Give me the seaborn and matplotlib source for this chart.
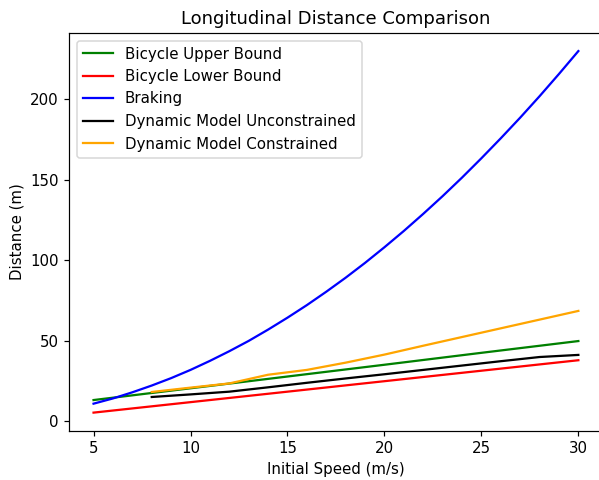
import matplotlib
matplotlib.use("Agg")
import matplotlib.pyplot as plt
import seaborn as sns
import pandas as pd

# Bicycle bounds
bike_speed = [5, 10, 15, 20, 25, 30]
bike_upper = [13.3, 20.6, 27.9, 35.2, 42.6, 49.9]
bike_lower = [5.5, 12.0, 18.5, 25.0, 31.5, 38.0]

# Braking distance
brake_speed = list(range(5, 31))
brake_dist = [11.05, 14.3, 18.1, 22.3, 26.9, 32.0, 37.6, 43.6, 50.0, 57.0,
              64.4, 72.2, 80.5, 89.2, 98.4, 108.1, 118.2, 128.8, 139.8, 151.3,
              163.3, 175.7, 188.5, 201.8, 215.6, 229.8]

# Dynamic models
dyn_speed = [8, 10, 12, 14, 16, 18, 20, 22, 24, 26, 28, 30]
dyn_unconstrained = [15.2, 16.8, 18.5, 21.2, 24.0, 26.7, 29.3, 32.0, 34.7, 37.4, 40.0, 41.3]
dyn_constrained = [18.3, 21.0, 23.6, 29.0, 32.0, 36.5, 41.5, 47.0, 52.4, 57.8, 63.2, 68.6]

DPI = 108
fig = plt.figure(figsize=(599 / DPI, 480 / DPI), dpi=DPI)
ax = fig.add_axes([69.3 / 599, (480 - 430.7) / 480, (602.6 - 69.3) / 599, (430.7 - 33) / 480])

series = [
    (bike_speed, bike_upper, "green", "Bicycle Upper Bound"),
    (bike_speed, bike_lower, "red", "Bicycle Lower Bound"),
    (brake_speed, brake_dist, "blue", "Braking"),
    (dyn_speed, dyn_unconstrained, "black", "Dynamic Model Unconstrained"),
    (dyn_speed, dyn_constrained, "orange", "Dynamic Model Constrained"),
]
for xs, ys, c, lab in series:
    df = pd.DataFrame({"x": xs, "y": ys})
    sns.lineplot(data=df, x="x", y="y", color=c, label=lab, ax=ax, linewidth=1.5)

ax.set_xticks([5, 10, 15, 20, 25, 30])
ax.set_yticks([0, 50, 100, 150, 200])
ax.set_xlabel("Initial Speed (m/s)")
ax.set_ylabel("Distance (m)")
ax.set_title("Longitudinal Distance Comparison")
ax.legend(loc="upper left")

fig.savefig("out.png", dpi=DPI)
